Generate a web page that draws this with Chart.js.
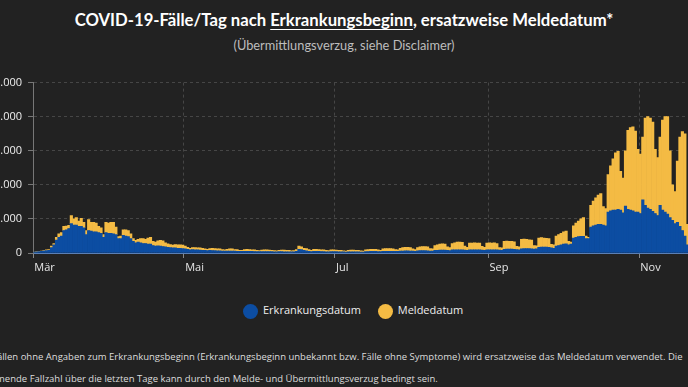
<!DOCTYPE html>
<html lang="de">
<head>
<meta charset="utf-8">
<script src="https://cdn.jsdelivr.net/npm/chart.js@4.4.1/dist/chart.umd.min.js"></script>
<style>
  html, body { margin: 0; padding: 0; background: #222222; width: 688px; height: 387px; overflow: hidden; }
  body { position: relative; font-family: 'Open Sans', sans-serif; color: #eeeeee; }
  #title { position: absolute; top: 10px; left: 0; width: 688px; text-align: center;
           font: bold 16.7px Lato, sans-serif; color: #ffffff; white-space: nowrap; }
  #title u { text-underline-offset: 3px; text-decoration-thickness: 1px; }
  #subtitle { position: absolute; top: 37px; left: 0; width: 688px; text-align: center;
              font: 12.8px Lato, sans-serif; color: #bdbdbd; }
  #wrap { position: absolute; left: -45px; top: 70px; width: 760px; height: 215px; }
  #legend { position: absolute; top: 302px; left: 243px; font-size: 11px; color: #eeeeee; white-space: nowrap; }
  #legend span.dot { display: inline-block; width: 15px; height: 15px; border-radius: 50%; vertical-align: middle; margin-right: 5px; }
  #legend span.item { margin-right: 14px; }
  #note { position: absolute; left: -32px; top: 346px; font-size: 9.5px; line-height: 22px; color: #dddddd; white-space: nowrap; }
</style>
</head>
<body>
<div id="title">COVID-19-Fälle/Tag nach <u>Erkrankungsbeginn</u>, ersatzweise Meldedatum*</div>
<div id="subtitle">(Übermittlungsverzug, siehe Disclaimer)</div>
<div id="wrap"><canvas id="faelleChart"></canvas></div>
<div id="legend">
  <span class="item"><span class="dot" style="background:#0c4da2"></span>Erkrankungsdatum</span>
  <span class="item"><span class="dot" style="background:#f4bb44"></span>Meldedatum</span>
</div>
<div id="note">* Bei Fällen ohne Angaben zum Erkrankungsbeginn (Erkrankungsbeginn unbekannt bzw. Fälle ohne Symptome) wird ersatzweise das Meldedatum verwendet. Die<br>abnehmende Fallzahl über die letzten Tage kann durch den Melde- und Übermittlungsverzug bedingt sein.</div>

<script>
// first day on the axis, one bar per day from here
const startDate = '2020-03-01';

// month ticks shown on the x axis
const monthStarts = ['2020-03-01', '2020-05-01', '2020-07-01', '2020-09-01', '2020-11-01'];
const monthLabels = ['Mär', 'Mai', 'Jul', 'Sep', 'Nov'];

// y axis ticks
const yTicks = [0, 5000, 10000, 15000, 20000, 25000];

// Fälle nach Erkrankungsdatum (blue), one row per week (Sun..Sat)
const erkrankungsdatum = [
  120, 160, 200, 250, 320, 350, 380,
  800, 1200, 1900, 2300, 2500, 3300, 3400,
  3600, 4300, 4100, 4100, 3900, 3900, 3700,
  2700, 3300, 3200, 3100, 3100, 3000, 2900,
  2300, 3000, 2900, 2900, 2800, 2700, 2100,
  2100, 2600, 2500, 2400, 2100, 1700, 1500,
  1600, 1500, 1400, 1400, 1300, 1300, 1100,
  1000, 1050, 1000, 950, 900, 850, 800,
  750, 750, 700, 700, 650, 600, 550,
  450, 500, 480, 450, 420, 400, 380,
  350, 380, 370, 350, 330, 320, 300,
  280, 300, 300, 290, 270, 260, 240,
  230, 250, 250, 240, 230, 220, 200,
  190, 210, 210, 200, 200, 190, 180,
  170, 190, 190, 180, 180, 170, 160,
  180, 250, 550, 500, 380, 330, 250,
  200, 260, 250, 230, 220, 200, 180,
  170, 200, 200, 190, 180, 170, 160,
  150, 180, 180, 180, 170, 170, 150,
  150, 200, 220, 230, 230, 230, 200,
  200, 250, 260, 260, 260, 250, 230,
  230, 280, 300, 320, 320, 300, 270,
  250, 320, 340, 350, 350, 330, 300,
  280, 380, 400, 420, 430, 420, 380,
  350, 450, 470, 480, 480, 470, 420,
  400, 470, 480, 480, 470, 460, 420,
  400, 480, 480, 480, 470, 460, 420,
  400, 550, 560, 560, 560, 550, 500,
  480, 620, 640, 640, 640, 620, 560,
  600, 850, 870, 870, 860, 850, 750,
  700, 1000, 1100, 1200, 1300, 1350, 1200,
  1300, 2200, 2300, 2400, 2450, 2450, 2100,
  2100, 3800, 4000, 4100, 4200, 4200, 4100,
  4000, 6000, 6200, 6300, 6300, 6400, 6300,
  5900, 6900, 6400, 6300, 6200, 6000, 6000,
  5800, 7800, 7000, 6600, 6400, 6100, 5800,
  5500, 7000, 6300, 6000, 5700, 5200, 4800,
  4300, 4500, 3900, 3300, 2500, 1200, 500,
  200, 80
];

// Fälle ohne Erkrankungsbeginn nach Meldedatum (yellow)
const meldedatum = [
  30, 40, 50, 50, 80, 100, 120,
  200, 200, 400, 500, 500, 600, 550,
  450, 1200, 900, 1100, 800, 1200, 800,
  600, 1600, 1300, 1400, 1300, 900, 800,
  400, 1500, 1500, 1600, 1700, 1100, 300,
  400, 800, 900, 900, 700, 400, 350,
  400, 600, 700, 600, 900, 1000, 600,
  600, 750, 850, 850, 600, 500, 450,
  400, 500, 500, 500, 500, 400, 300,
  250, 300, 320, 300, 330, 300, 220,
  200, 270, 330, 300, 270, 280, 200,
  170, 250, 300, 310, 230, 240, 160,
  170, 250, 300, 260, 220, 230, 180,
  160, 210, 240, 250, 220, 210, 170,
  150, 210, 240, 240, 220, 210, 170,
  170, 250, 450, 400, 320, 320, 250,
  200, 290, 300, 270, 260, 250, 200,
  180, 250, 250, 230, 220, 210, 170,
  150, 220, 240, 240, 230, 210, 170,
  150, 250, 280, 320, 320, 320, 250,
  200, 350, 390, 390, 390, 350, 270,
  220, 420, 500, 530, 530, 500, 330,
  250, 480, 560, 600, 600, 570, 350,
  320, 720, 800, 880, 920, 880, 520,
  450, 950, 1030, 1120, 1120, 1080, 580,
  450, 980, 970, 1020, 980, 990, 550,
  450, 970, 1020, 970, 1030, 940, 380,
  350, 1150, 1190, 1140, 1140, 1100, 470,
  420, 1380, 1410, 1360, 1310, 1280, 540,
  450, 1350, 1380, 1330, 1290, 1250, 510,
  500, 1500, 1600, 1700, 1800, 1850, 500,
  300, 1800, 2100, 2300, 2550, 2750, 400,
  200, 3200, 3600, 4000, 4300, 4500, 2700,
  2500, 5500, 6600, 7500, 8400, 8500, 5700,
  5100, 8100, 11600, 12100, 12300, 11900, 9200,
  8700, 9200, 12800, 13400, 13400, 13100, 9400,
  8500, 10000, 13200, 14000, 14300, 9800, 5200,
  4700, 9000, 13100, 14500, 15000, 3000, 1500,
  800, 320
];

// one category per day
const days = erkrankungsdatum.map((_, i) => {
  const d = new Date(startDate + 'T12:00:00Z');
  d.setUTCDate(d.getUTCDate() + i);
  return d.toISOString().slice(0, 10);
});

function monthIndex(i) {
  return monthStarts.indexOf(days[i]);
}

const gridColor = '#464646';

const ctx = document.getElementById('faelleChart').getContext('2d');
new Chart(ctx, {
  type: 'bar',
  data: {
    labels: days,
    datasets: [
      { label: 'Erkrankungsdatum', data: erkrankungsdatum, backgroundColor: '#0c4da2',
        barPercentage: 1, categoryPercentage: 1, borderWidth: 0 },
      { label: 'Meldedatum', data: meldedatum, backgroundColor: '#f4bb44',
        barPercentage: 1, categoryPercentage: 1, borderWidth: 0 }
    ]
  },
  options: {
    responsive: true,
    maintainAspectRatio: false,
    animation: false,
    layout: { padding: { top: 10, right: 19, left: 0, bottom: 0 } },
    plugins: { legend: { display: false }, tooltip: { enabled: false } },
    scales: {
      x: {
        stacked: true,
        afterFit: (s) => { s.height = 32; },
        grid: {
          offset: true,
          color: (c) => monthIndex(c.index) >= 0 && c.index > 0 ? gridColor : 'transparent',
          tickColor: (c) => monthIndex(c.index) >= 0 ? '#888888' : 'transparent',
          tickLength: 5
        },
        border: { color: '#5a7fb5', width: 1, dash: [3, 3] },
        ticks: {
          autoSkip: false,
          maxRotation: 0,
          align: 'start',
          padding: 3,
          color: '#e6e6e6',
          font: { family: 'Open Sans', size: 11 },
          callback: (v, i) => { const m = monthIndex(i); return m >= 0 ? monthLabels[m] : ''; }
        }
      },
      y: {
        stacked: true,
        min: 0,
        max: 25000,
        afterFit: (s) => { s.width = 78; },
        afterBuildTicks: (s) => { s.ticks = yTicks.map(v => ({ value: v })); },
        grid: { color: (c) => c.tick && c.tick.value === 0 ? 'transparent' : gridColor, tickColor: '#777777', tickLength: 5 },
        border: { color: '#777777', width: 1, dash: [3, 3] },
        ticks: {
          padding: 6,
          color: '#eeeeee',
          font: { family: 'Open Sans', size: 11 },
          callback: (v) => v.toLocaleString('de-DE')
        }
      }
    }
  }
});
</script>
</body>
</html>
